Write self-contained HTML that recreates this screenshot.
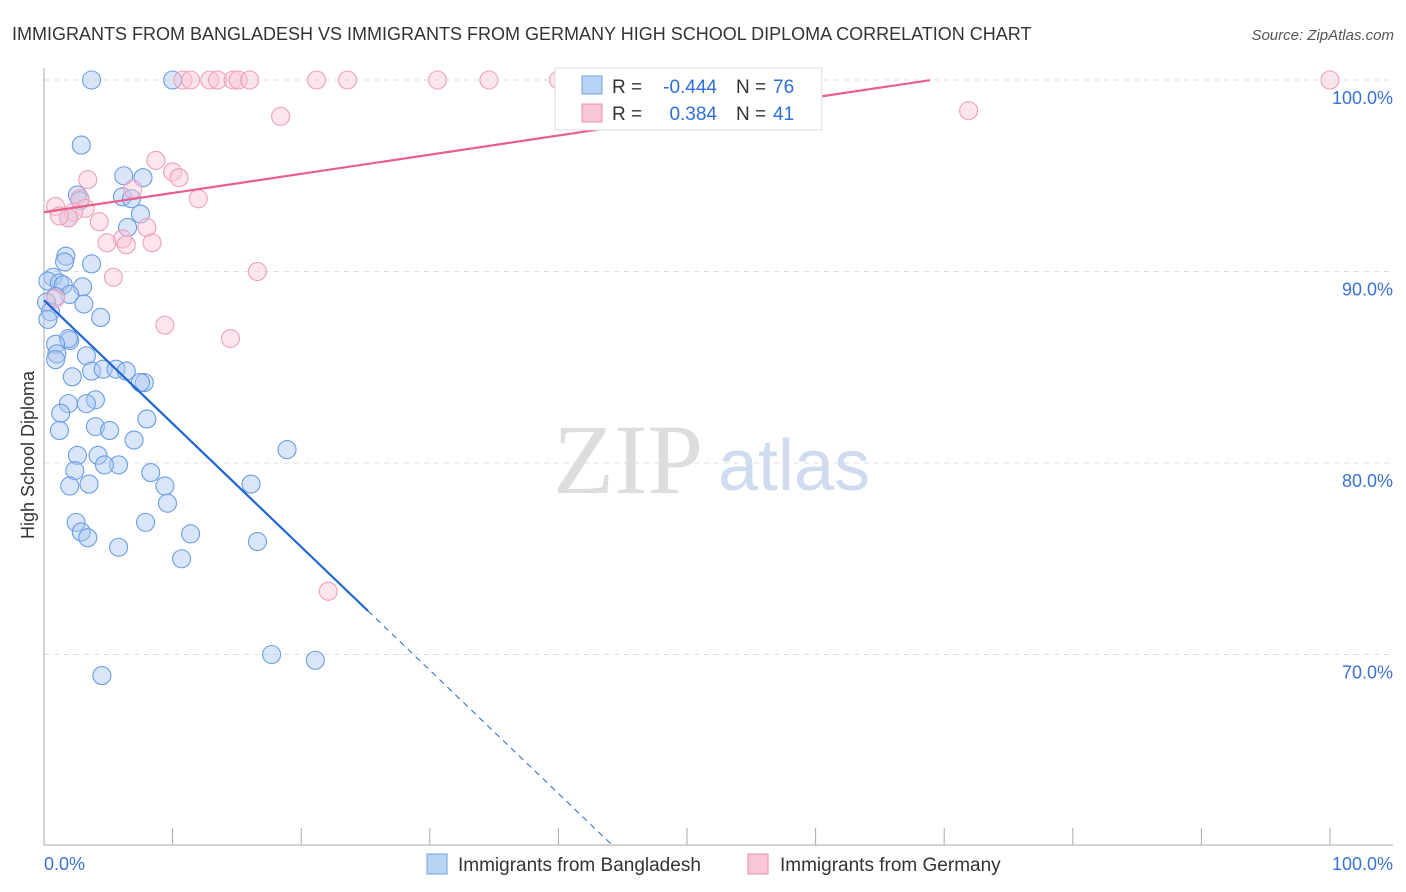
<!DOCTYPE html>
<html><head><meta charset="utf-8"><style>
body{margin:0;background:#fff;font-family:"Liberation Sans",sans-serif;}
svg{display:block}
</style></head><body>
<svg width="1406" height="892" id="chart">
<text x="12" y="40" font-size="18" fill="#333">IMMIGRANTS FROM BANGLADESH VS IMMIGRANTS FROM GERMANY HIGH SCHOOL DIPLOMA CORRELATION CHART</text>
<text x="1394" y="40" font-size="15" fill="#555" font-style="italic" text-anchor="end">Source: ZipAtlas.com</text>
<text x="34" y="455" font-size="18" fill="#333" text-anchor="middle" transform="rotate(-90 34 455)">High School Diploma</text>
<text x="553" y="493" font-size="100" fill="#ddd" font-family="Liberation Serif,serif">ZIP</text>
<text x="718" y="490" font-size="72" fill="#cfdcf0">atlas</text>
<g id="grid"></g><g id="axes"></g><g id="pts"></g><g id="lines"></g>
<g>
<rect x="555" y="68" width="267" height="62" fill="#fff" stroke="#ddd"/>
<rect x="582" y="76" width="20" height="18" fill="#b9d3f5" stroke="#6fa0e0"/>
<rect x="582" y="104" width="20" height="18" fill="#f9c6d6" stroke="#eb8fae"/>
<text x="612" y="93" font-size="19" fill="#333">R =</text>
<text x="717" y="93" font-size="19" fill="#2d6fd6" text-anchor="end">-0.444</text>
<text x="736" y="93" font-size="19" fill="#333">N =</text>
<text x="773" y="93" font-size="19" fill="#2d6fd6">76</text>
<text x="612" y="120" font-size="19" fill="#333">R =</text>
<text x="717" y="120" font-size="19" fill="#2d6fd6" text-anchor="end">0.384</text>
<text x="736" y="120" font-size="19" fill="#333">N =</text>
<text x="773" y="120" font-size="19" fill="#2d6fd6">41</text>
</g>
<g>
<rect x="427" y="854" width="20" height="20" fill="#b9d3f5" stroke="#6fa0e0"/>
<text x="458" y="871" font-size="19" fill="#333">Immigrants from Bangladesh</text>
<rect x="748" y="854" width="20" height="20" fill="#f9c6d6" stroke="#eb8fae"/>
<text x="780" y="871" font-size="19" fill="#333">Immigrants from Germany</text>
</g>
</svg>
<script>
const yTicks=[100,90,80,70];
const xTickLabels=["0.0%","100.0%"];
const bangX=[3.7,10,2.9,6.2,7.7,2.6,6.1,6.8,2.8,7.5,1.9,6.5,1.7,1.6,3.7,0.7,0.3,1.2,1.5,3,2,0.9,0.2,3.1,0.5,4.4,0.3,2,1.9,0.9,1,3.3,0.9,3.7,4.6,5.6,6.4,7.8,7.5,2.2,4.0,1.9,3.3,1.3,8,1.2,4,5.1,7,2.6,4.2,5.8,4.7,8.3,2.4,2,3.5,18.9,16.1,9.4,9.6,2.5,2.9,3.4,7.9,11.4,5.8,10.7,16.6,17.7,21.1,4.5];
const bangY=[100,100,96.6,95,94.9,94,93.9,93.8,93.7,93,92.8,92.3,90.8,90.5,90.4,89.7,89.5,89.4,89.3,89.2,88.8,88.7,88.4,88.3,87.9,87.6,87.5,86.4,86.5,86.2,85.7,85.6,85.4,84.8,84.9,84.9,84.8,84.2,84.2,84.5,83.3,83.1,83.1,82.6,82.3,81.7,81.9,81.7,81.2,80.4,80.4,79.9,79.9,79.5,79.6,78.8,78.9,80.7,78.9,78.8,77.9,76.9,76.4,76.1,76.9,76.3,75.6,75.0,75.9,70.0,69.7,68.9];
const gerX=[10.8,11.4,12.9,13.5,14.7,15.1,16,21.2,23.6,30.6,34.6,40,47.7,50.2,100,71.9,18.4,8.7,10,10.5,3.4,6.9,2.8,12,0.9,3.2,2.3,1.9,1.2,4.3,8,6.1,4.9,6.4,8.4,16.6,5.4,0.9,9.4,14.5,22.1];
const gerY=[100,100,100,100,100,100,100,100,100,100,100,100,100,100,100,98.4,98.1,95.8,95.2,94.9,94.8,94.3,93.8,93.8,93.4,93.3,93.1,92.8,92.9,92.6,92.3,91.7,91.5,91.4,91.5,90,89.7,88.6,87.2,86.5,73.3];
const bangReg=[88.5,-0.644,25.2];
const gerReg=[93.1,0.1,68.9];
const NS='http://www.w3.org/2000/svg';
const X=v=>44+v*12.86, Y=v=>80+(100-v)*19.15;
function mk(t,a,p){const e=document.createElementNS(NS,t);for(const k in a)e.setAttribute(k,a[k]);document.getElementById(p).appendChild(e);return e;}
yTicks.forEach(t=>{
 const l=mk('line',{x1:44,x2:1393,y1:Y(t),y2:Y(t),stroke:'#ddd','stroke-dasharray':'5,5'},'grid');
 
 
 const tx=mk('text',{x:1393,y:Y(t)+24,'font-size':18,fill:'#3a72d4','text-anchor':'end'},'grid');
 tx.textContent=t.toFixed(1)+'%';
 
 
});
mk('line',{x1:44,x2:44,y1:68,y2:845,stroke:'#aaa'},'axes');
mk('line',{x1:44,x2:1393,y1:845,y2:845,stroke:'#aaa'},'axes');
for(let i=0;i<=10;i++){const x=44+i*128.6;mk('line',{x1:x,x2:x,y1:828,y2:845,stroke:'#aaa'},'axes');}
const t0=mk('text',{x:44,y:870,'font-size':18,fill:'#3a72d4'},'axes');t0.textContent=xTickLabels[0];


const t1=mk('text',{x:1393,y:870,'font-size':18,fill:'#3a72d4','text-anchor':'end'},'axes');t1.textContent=xTickLabels[1];


bangX.forEach((v,i)=>{const c=mk('circle',{cx:X(v),cy:Y(bangY[i]),r:9,fill:'rgba(170,200,242,0.45)',stroke:'#6a9de2','stroke-width':1.1},'pts');
 
 });
gerX.forEach((v,i)=>{const c=mk('circle',{cx:X(v),cy:Y(gerY[i]),r:9,fill:'rgba(249,198,214,0.45)',stroke:'#eea0ba','stroke-width':1.1},'pts');
 
 });
let b=mk('line',{x1:X(0),y1:Y(bangReg[0]),x2:X(bangReg[2]),y2:Y(bangReg[0]+bangReg[1]*bangReg[2]),stroke:'#2166d1','stroke-width':2.2},'lines');


const xEnd=(60-bangReg[0])/bangReg[1];
let bd=mk('line',{x1:X(bangReg[2]),y1:Y(bangReg[0]+bangReg[1]*bangReg[2]),x2:X(xEnd),y2:Y(60),stroke:'#2166d1','stroke-width':1,'stroke-dasharray':'6,5'},'lines');


let g=mk('line',{x1:X(0),y1:Y(gerReg[0]),x2:X(gerReg[2]),y2:Y(gerReg[0]+gerReg[1]*gerReg[2]),stroke:'#e8608a','stroke-width':2.2},'lines');


</script>
</body></html>
